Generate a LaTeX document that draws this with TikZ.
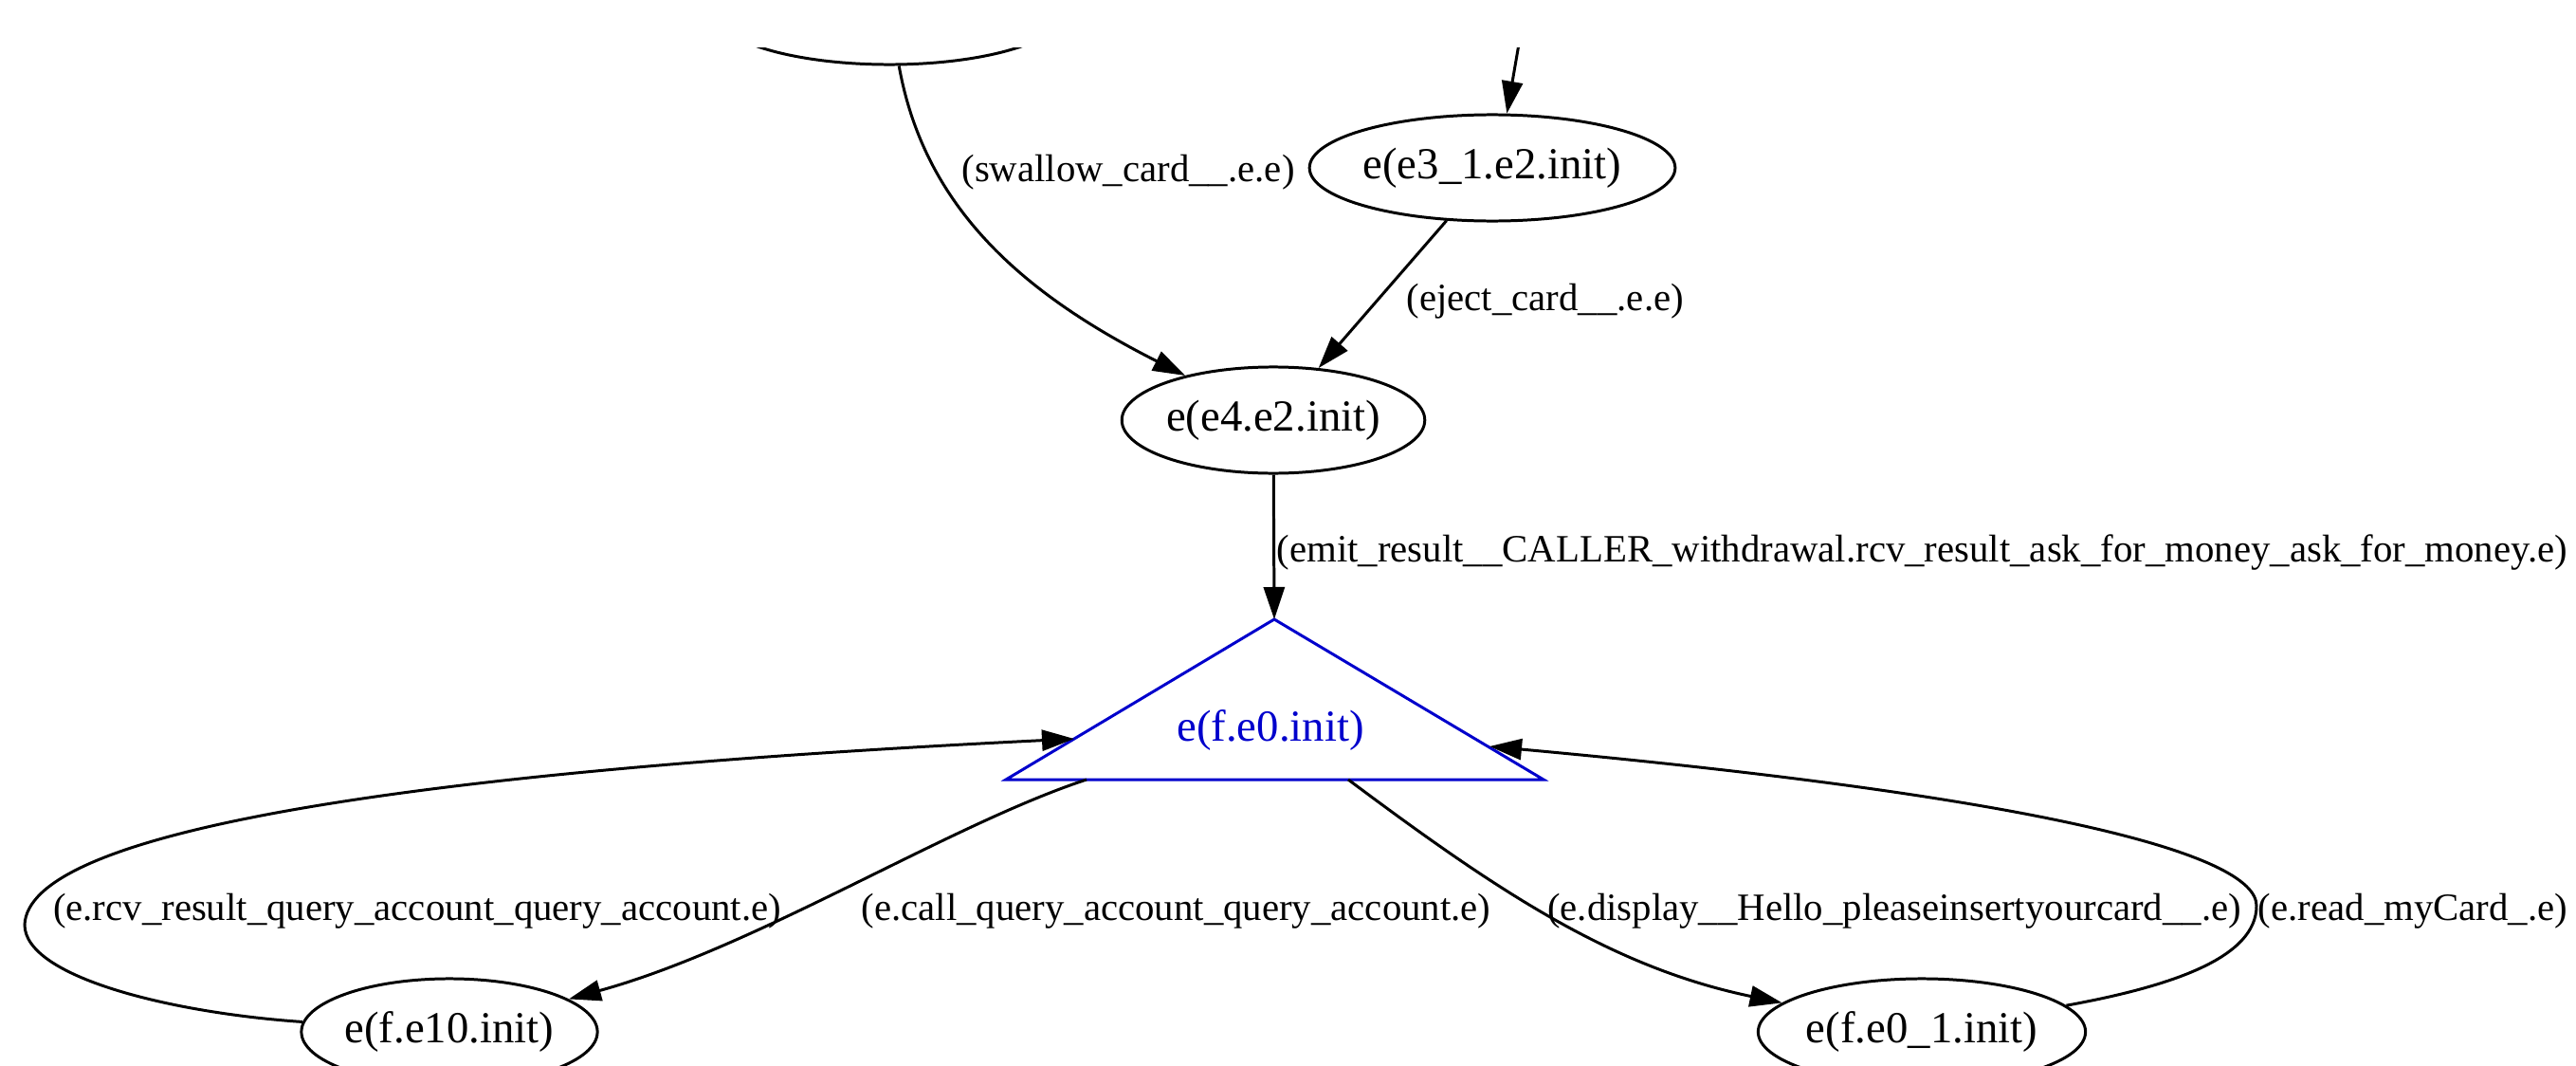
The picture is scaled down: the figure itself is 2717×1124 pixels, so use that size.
\documentclass[tikz,border=0pt]{standalone}
\usepackage{fontspec}
\setmainfont{Liberation Serif}
\usetikzlibrary{shapes.geometric,arrows.meta}

\begin{document}
\begin{tikzpicture}[x=0.01cm,y=-0.01cm,
  state/.style={ellipse,draw,line width=0.85pt,inner sep=0pt,
    minimum height=1.12cm,font=\fontsize{13.3}{16}\selectfont},
  edge/.style={line width=0.85pt,-{Triangle[length=0.34cm,width=0.22cm]}},
  lbl/.style={font=\fontsize{11.6}{14}\selectfont,inner sep=0pt}]
  \useasboundingbox (0,0) rectangle (2717,1124);
  \clip (0,50) rectangle (2717,1124);
  % states
  \node[state,minimum width=3.7cm] (top) at (938,12) {};
  \node[state,minimum width=3.62cm] (e31) at (1574,177) {e(e3\_1.e2.init)};
  \node[state,minimum width=3.09cm] (e4) at (1343,443) {e(e4.e2.init)};
  \node[state,minimum width=3.09cm] (e10) at (474,1088) {e(f.e10.init)};
  \node[state,minimum width=3.31cm] (e01) at (2027,1088) {e(f.e0\_1.init)};
  % initial state
  \coordinate (apex) at (1344,653);
  \coordinate (bl) at (1061,822);
  \coordinate (br) at (1628,822);
  \draw[blue!80!black,line width=0.85pt] (apex) -- (bl) -- (br) -- cycle;
  \node[text=blue!80!black,font=\fontsize{13.3}{16}\selectfont] (f0) at (1340,770) {e(f.e0.init)};
  \coordinate (f0l) at (1133,779);
  \coordinate (f0r) at (1571,787);
  \coordinate (f0b1) at (1146,822);
  \coordinate (f0b2) at (1422,822);
  \coordinate (in3) at (1610,0);
  % transitions
  \draw[edge] (top) .. controls (975,220) and (1080,310) .. (e4);
  \draw[edge] (in3) -- (e31.75);
  \draw[edge] (e31) -- (e4);
  \draw[edge] (e4) -- (apex);
  \draw[edge] (f0b1) .. controls (1000,870) and (798,999) .. (e10);
  \draw[edge] (e10) .. controls (180,1068) and (26,1030) .. (26,975)
    .. controls (30,880) and (400,815) .. (f0l);
  \draw[edge] (f0b2) .. controls (1580,940) and (1700,1020) .. (e01);
  \draw[edge] (e01) .. controls (2290,1040) and (2380,1010) .. (2380,955)
    .. controls (2380,900) and (2150,840) .. (f0r);
  % labels
  \node[lbl] (lswallow) at (1190,182) {(swallow\_card\_\_.e.e)};
  \node[lbl,anchor=west] (leject) at (1483,318) {(eject\_card\_\_.e.e)};
  \node[lbl,anchor=west] (lemit) at (1346,583) {(emit\_result\_\_CALLER\_withdrawal.rcv\_result\_ask\_for\_money\_ask\_for\_money.e)};
  \node[lbl] (lrcv) at (440,961) {(e.rcv\_result\_query\_account\_query\_account.e)};
  \node[lbl,anchor=west] (lcall) at (908,961) {(e.call\_query\_account\_query\_account.e)};
  \node[lbl] (ldisplay) at (1998,961) {(e.display\_\_Hello\_pleaseinsertyourcard\_\_.e)};
  \node[lbl] (lread) at (2545,961) {(e.read\_myCard\_.e)};
\end{tikzpicture}
\end{document}
